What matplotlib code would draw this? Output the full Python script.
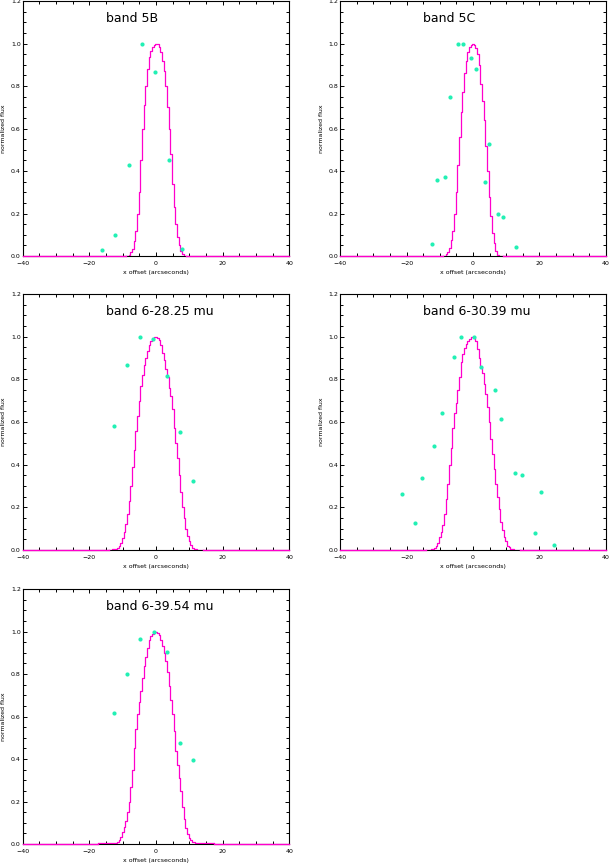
import numpy as np
import matplotlib
matplotlib.use("Agg")
import matplotlib.pyplot as plt
from matplotlib.ticker import MultipleLocator

# ---------------------------------------------------------------------------
# Data
# ---------------------------------------------------------------------------
TITLES = ["band 5B", "band 5C", "band 6-28.25 mu", "band 6-30.39 mu",
          "band 6-39.54 mu"]

# measured points (x offset in arcsec, normalized flux)
P1_X = [-16.3, -12.3, -8.2, -4.3, -0.4, 3.8, 7.7]
P1_Y = [0.030, 0.100, 0.430, 1.000, 0.865, 0.450, 0.035]

P2_X = [-12.4, -10.9, -8.4, -7.0, -4.4, -3.0, -0.5, 1.0, 3.6, 4.9, 7.5, 9.0, 12.8]
P2_Y = [0.058, 0.359, 0.373, 0.748, 1.000, 1.000, 0.933, 0.879, 0.350, 0.528,
        0.197, 0.185, 0.042]

P3_X = [-12.6, -8.7, -4.7, -0.8, 3.2, 7.3, 11.2]
P3_Y = [0.583, 0.866, 1.000, 0.989, 0.816, 0.555, 0.325]

P4_X = [-21.4, -17.5, -15.3, -11.6, -9.4, -5.7, -3.5, 0.4, 2.3, 6.5, 8.5,
        12.5, 14.6, 18.5, 20.5, 24.3]
P4_Y = [0.264, 0.127, 0.339, 0.489, 0.644, 0.906, 1.000, 1.000, 0.859, 0.752,
        0.612, 0.362, 0.352, 0.081, 0.272, 0.025]

P5_X = [-12.6, -8.7, -4.7, -0.7, 3.2, 7.3, 11.2]
P5_Y = [0.617, 0.800, 0.964, 1.000, 0.902, 0.474, 0.394]

# model beam profiles, sampled every 0.5 arcsec starting at *_START
BEAM_STEP = 0.5
B1_START = -9.0
B1 = [0, 0, 0.005, 0.02, 0.035, 0.07, 0.12, 0.2, 0.3, 0.45, 0.6, 0.71, 0.8,
      0.88, 0.935, 0.965, 0.985, 0.995,
      1.0,
      0.998, 0.985, 0.96, 0.92, 0.87, 0.8, 0.7, 0.6, 0.48, 0.34, 0.23, 0.15,
      0.09, 0.05, 0.025, 0.008, 0.002, 0]

B2_START = -9.0
B2 = [0, 0.002, 0.008, 0.02, 0.04, 0.075, 0.12, 0.2, 0.3, 0.43, 0.56, 0.68,
      0.77, 0.86, 0.92, 0.96, 0.985, 0.995,
      1.0,
      0.995, 0.98, 0.95, 0.9, 0.81, 0.73, 0.64, 0.52, 0.4, 0.28, 0.19, 0.11,
      0.06, 0.025, 0.006, 0.002, 0, 0]

B3_START = -14.0
B3 = [0.002, 0.002, 0.003, 0.004, 0.005, 0.01, 0.02, 0.035, 0.055, 0.085,
      0.12, 0.17, 0.23, 0.3, 0.39, 0.47, 0.56, 0.63, 0.7, 0.77, 0.82, 0.865,
      0.9, 0.935, 0.96, 0.98, 0.99, 0.997,
      1.0,
      0.995, 0.985, 0.96, 0.925, 0.89, 0.85, 0.81, 0.76, 0.72, 0.66, 0.57,
      0.5, 0.43, 0.35, 0.27, 0.2, 0.15, 0.1, 0.065, 0.04, 0.022, 0.01, 0.005,
      0.003, 0.002, 0.002, 0.002, 0.002]

B4_START = -14.0
B4 = [0.002, 0.002, 0.002, 0.003, 0.003, 0.008, 0.02, 0.035, 0.06, 0.085,
      0.115, 0.17, 0.24, 0.31, 0.4, 0.48, 0.57, 0.64, 0.69, 0.75, 0.81, 0.88,
      0.92, 0.945, 0.965, 0.98, 0.99, 0.998,
      1.0,
      0.995, 0.98, 0.94, 0.9, 0.86, 0.83, 0.78, 0.73, 0.67, 0.6, 0.52, 0.45,
      0.38, 0.31, 0.25, 0.19, 0.13, 0.095, 0.06, 0.04, 0.02, 0.012, 0.006,
      0.003, 0.002, 0.002, 0.002, 0.002]

B5_START = -17.5
B5 = [0.003, 0.003, 0.003, 0.003, 0.003, 0.003, 0.003, 0.003, 0.003, 0.003,
      0.005, 0.007, 0.01, 0.02, 0.035, 0.055, 0.08, 0.11, 0.15, 0.2, 0.27,
      0.35, 0.45, 0.54, 0.61, 0.67, 0.72, 0.78, 0.84, 0.88, 0.925, 0.96, 0.978,
      0.99, 0.997,
      1.0,
      0.995, 0.985, 0.96, 0.93, 0.9, 0.86, 0.81, 0.745, 0.68, 0.61, 0.53, 0.44,
      0.37, 0.31, 0.25, 0.175, 0.12, 0.075, 0.048, 0.03, 0.018, 0.011, 0.008,
      0.006, 0.005,
      0.004, 0.004, 0.004, 0.004, 0.004, 0.004, 0.004, 0.004, 0.004, 0.004]

POINTS = [(P1_X, P1_Y), (P2_X, P2_Y), (P3_X, P3_Y), (P4_X, P4_Y), (P5_X, P5_Y)]
BEAMS = [(B1_START, B1), (B2_START, B2), (B3_START, B3), (B4_START, B4),
         (B5_START, B5)]

XLIM = (-40, 40)
YLIM = (0.0, 1.2)

# ---------------------------------------------------------------------------
# Style / layout
# ---------------------------------------------------------------------------
MAGENTA = "#ff00cc"
MINT = "#22f0b4"
TICK_FS = 4.5
LABEL_FS = 4.5
TITLE_FS = 9

# [left, bottom, width, height] in figure fraction
POSITIONS = [
    [0.0372, 0.7037, 0.4363, 0.2951],
    [0.5565, 0.7037, 0.4353, 0.2951],
    [0.0372, 0.3634, 0.4363, 0.2963],
    [0.5565, 0.3634, 0.4353, 0.2963],
    [0.0372, 0.0231, 0.4363, 0.2951],
]

fig = plt.figure(figsize=(6.11, 8.64), dpi=100)

for i, pos in enumerate(POSITIONS):
    ax = fig.add_axes(pos)
    start, prof = BEAMS[i]
    bx = start + BEAM_STEP * np.arange(len(prof))
    by = np.asarray(prof, dtype=float)

    # flat zero level outside the sampled beam
    ax.plot([XLIM[0], bx[0]], [0, 0], color=MAGENTA, lw=1.0, zorder=3,
            clip_on=False)
    ax.plot([bx[-1], XLIM[1]], [0, 0], color=MAGENTA, lw=1.0, zorder=3,
            clip_on=False)
    ax.plot(bx, by, drawstyle="steps-mid", color=MAGENTA, lw=0.9, zorder=3)

    px, py = POINTS[i]
    ax.plot(px, py, "o", color=MINT, markersize=3.0, markeredgewidth=0,
            zorder=4)

    ax.text(-15, 1.10, TITLES[i], fontsize=TITLE_FS, ha="left",
            va="baseline")

    ax.set_xlim(XLIM)
    ax.set_ylim(YLIM)
    ax.xaxis.set_major_locator(MultipleLocator(20))
    ax.xaxis.set_minor_locator(MultipleLocator(5))
    ax.yaxis.set_major_locator(MultipleLocator(0.2))
    ax.yaxis.set_minor_locator(MultipleLocator(0.05))
    ax.tick_params(which="both", direction="in", top=True, right=True,
                   width=0.7, labelsize=TICK_FS)
    ax.tick_params(which="major", length=3.2)
    ax.tick_params(which="minor", length=2.0)
    ax.tick_params(axis="x", pad=3.4)
    ax.tick_params(axis="y", pad=1.4)
    for sp in ax.spines.values():
        sp.set_linewidth(0.8)

    ax.set_xlabel("x offset (arcseconds)", fontsize=LABEL_FS)
    ax.set_ylabel("normalized flux", fontsize=LABEL_FS)
    ax.xaxis.set_label_coords(0.5, -0.053)
    ax.yaxis.set_label_coords(-0.062, 0.5)

fig.savefig("out.png", dpi=100)
